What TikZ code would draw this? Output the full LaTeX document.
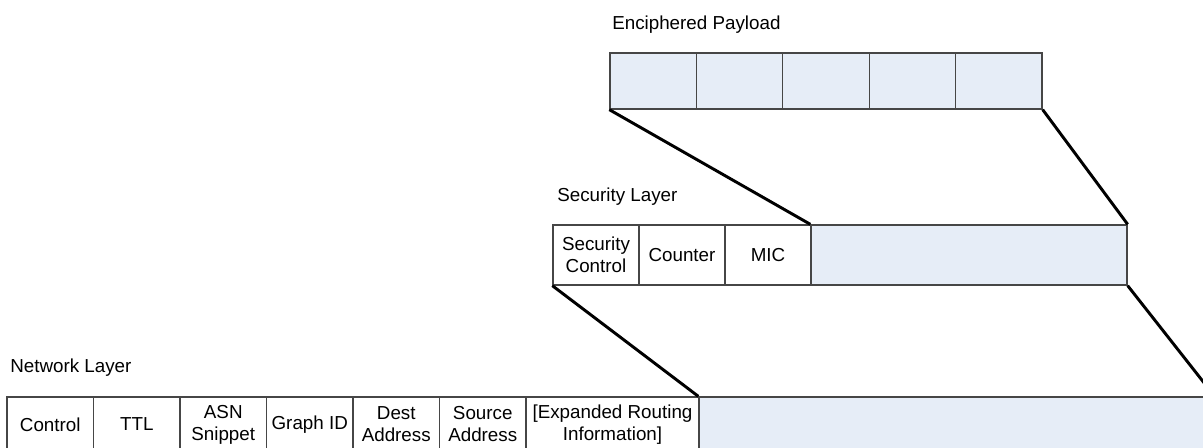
\documentclass[tikz,border=0pt]{standalone}
\usepackage{fontspec}
\setmainfont{Liberation Sans}
\definecolor{payblue}{RGB}{230,237,247}
\definecolor{cellline}{RGB}{70,70,70}

\begin{document}
\begin{tikzpicture}[x=0.75pt, y=-0.75pt,
  field/.style={draw=cellline, line width=1pt, inner sep=0pt, align=center,
    font=\fontsize{14.1}{16.5}\selectfont},
  pay field/.style={field, fill=payblue, minimum width=64.8pt, minimum height=42pt},
  sec field/.style={field, minimum width=64.5pt, minimum height=45pt},
  net field/.style={field, minimum width=64.875pt, minimum height=41.25pt},
  link/.style={line width=2.2pt, black},
  layer label/.style={anchor=base west, inner sep=0pt, font=\fontsize{14.1}{16.5}\selectfont}]

  \useasboundingbox (0,0) rectangle (1203,448);

  % enciphered payload
  \node[layer label] (lpay) at (612,30) {Enciphered Payload};
  \node[pay field] (p0) at (653.2,81) {};
  \node[pay field] (p1) at (739.6,81) {};
  \node[pay field] (p2) at (826.0,81) {};
  \node[pay field] (p3) at (912.4,81) {};
  \node[pay field] (p4) at (998.8,81) {};

  % security layer
  \node[layer label] (lsec) at (557,202) {Security Layer};
  \node[sec field] (s0) at (596,255) {Security\\Control};
  \node[sec field] (s1) at (682,255) {Counter};
  \node[sec field] (s2) at (768,255) {MIC};
  \node[sec field, fill=payblue, minimum width=237pt] (s3) at (969,255) {};

  % network layer
  \node[layer label] (lnet) at (10,373) {Network Layer};
  \node[net field] (n0) at (50.25,424.5) {Control};
  \node[net field] (n1) at (136.75,424.5) {TTL};
  \node[net field] (n2) at (223.25,424.5) {ASN\\Snippet};
  \node[net field] (n3) at (309.75,424.5) {Graph ID};
  \node[net field] (n4) at (396.25,424.5) {Dest\\Address};
  \node[net field] (n5) at (482.75,424.5) {Source\\Address};
  \node[net field, minimum width=129.75pt] (n6) at (612.5,424.5) {[Expanded Routing\\Information]};
  \node[net field, fill=payblue, minimum width=386.25pt] (n7) at (956.5,424.5) {};

 \draw[link] (p0.south west) -- (s3.north west);
 \draw[link] (p4.south east) -- (s3.north east);
 \draw[link] (s0.south west) -- (n7.north west);
 \draw[link] (s3.south east) -- (n7.north east);

\end{tikzpicture}
\end{document}
